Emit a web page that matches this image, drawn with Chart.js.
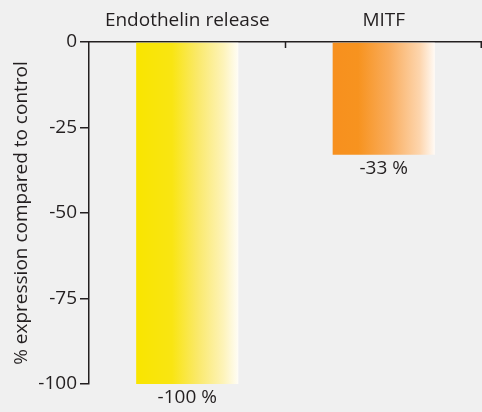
<!DOCTYPE html>
<html>
<head>
<meta charset="utf-8">
<script src="https://cdn.jsdelivr.net/npm/chart.js@4"></script>
<style>
  html, body { margin: 0; padding: 0; background: #f0f0f0; }
  #wrap { width: 482px; height: 412px; }
</style>
</head>
<body>
<div id="wrap"><canvas id="chart" width="482" height="412"></canvas></div>
<script>
// Percent expression relative to control
const categories = ['Endothelin release', 'MITF'];
const values = [-100, -33];
const valueLabels = ['-100 %', '-33 %'];
const yTicks = [0, -25, -50, -75, -100];

// Colour ramps per bar: solid at the left edge, fading to white at the right
const ramps = [
  [[0, '#f9e500'], [0.35, '#f9e512'], [0.6, '#fae96a'], [0.85, '#fdf3b8'], [1, '#fffdf6']],
  [[0, '#f7901e'], [0.25, '#f7931f'], [0.55, '#f9ac5c'], [0.85, '#fdd5ad'], [1, '#fffaf5']]
];

const FONT = "'Open Sans', 'Noto Sans', sans-serif";
const INK = '#231f20';
const SIZE = 19;

function barFill(ctx) {
  const chart = ctx.chart;
  const meta = chart.getDatasetMeta(ctx.datasetIndex);
  const bar = meta.data[ctx.dataIndex];
  const xs = chart.scales.x;
  let left, right;
  if (bar && bar.width) {
    left = bar.x - bar.width / 2;
    right = bar.x + bar.width / 2;
  } else if (xs && chart.chartArea) {
    const cw = (xs.right - xs.left) / categories.length;
    const c = xs.getPixelForValue(ctx.dataIndex);
    left = c - cw * 0.26;
    right = c + cw * 0.26;
  } else {
    return ramps[ctx.dataIndex][0][1];
  }
  const g = chart.ctx.createLinearGradient(left, 0, right, 0);
  ramps[ctx.dataIndex].forEach(([s, c]) => g.addColorStop(s, c));
  return g;
}

// Short marks hanging below the top axis at category boundaries
const boundaryTicks = {
  id: 'boundaryTicks',
  afterDraw(chart) {
    const xs = chart.scales.x;
    const { ctx, chartArea } = chart;
    const cw = (xs.right - xs.left) / categories.length;
    ctx.save();
    ctx.strokeStyle = INK;
    ctx.lineWidth = 1.5;
    for (let i = 1; i <= categories.length; i++) {
      const x = Math.min(xs.left + cw * i, chart.width - 0.75);
      ctx.beginPath();
      ctx.moveTo(x, chartArea.top);
      ctx.lineTo(x, chartArea.top + 6);
      ctx.stroke();
    }
    ctx.restore();
  }
};

// Value text under each bar end
const valueText = {
  id: 'valueText',
  afterDatasetsDraw(chart) {
    const { ctx } = chart;
    const meta = chart.getDatasetMeta(0);
    ctx.save();
    ctx.fillStyle = INK;
    ctx.font = SIZE + 'px ' + FONT;
    ctx.textAlign = 'center';
    ctx.textBaseline = 'middle';
    meta.data.forEach((bar, i) => {
      ctx.fillText(valueLabels[i], bar.x, bar.y + 14);
    });
    ctx.restore();
  }
};

new Chart(document.getElementById('chart'), {
  type: 'bar',
  data: {
    labels: categories,
    datasets: [{
      data: values,
      backgroundColor: barFill,
      borderWidth: 0,
      categoryPercentage: 1,
      barPercentage: 0.52
    }]
  },
  options: {
    responsive: false,
    animation: false,
    maintainAspectRatio: false,
    layout: { padding: { left: 0, right: 0, top: 0, bottom: 28 } },
    plugins: {
      legend: { display: false },
      tooltip: { enabled: false },
      title: { display: false }
    },
    scales: {
      x: {
        position: 'top',
        grid: { display: true, drawOnChartArea: false, drawTicks: false, color: 'rgba(0,0,0,0)' },
        border: { display: true, color: INK, width: 1.5 },
        ticks: { color: INK, font: { family: FONT, size: SIZE }, padding: 10, maxRotation: 0 },
        afterFit(scale) { scale.height = 42; }
      },
      y: {
        min: -100,
        max: 0,
        afterBuildTicks(scale) { scale.ticks = yTicks.map(v => ({ value: v })); },
        grid: { display: true, drawOnChartArea: false, drawTicks: true, tickLength: 9, color: INK, lineWidth: 1.5 },
        border: { display: true, color: INK, width: 1.5 },
        ticks: { color: INK, font: { family: FONT, size: SIZE }, padding: 3 },
        title: {
          display: true,
          text: '% expression compared to control',
          color: INK,
          font: { family: FONT, size: SIZE },
          padding: { top: 10, bottom: 4 }
        },
        afterFit(scale) { scale.width = 89; }
      }
    }
  },
  plugins: [boundaryTicks, valueText]
});
</script>
</body>
</html>
